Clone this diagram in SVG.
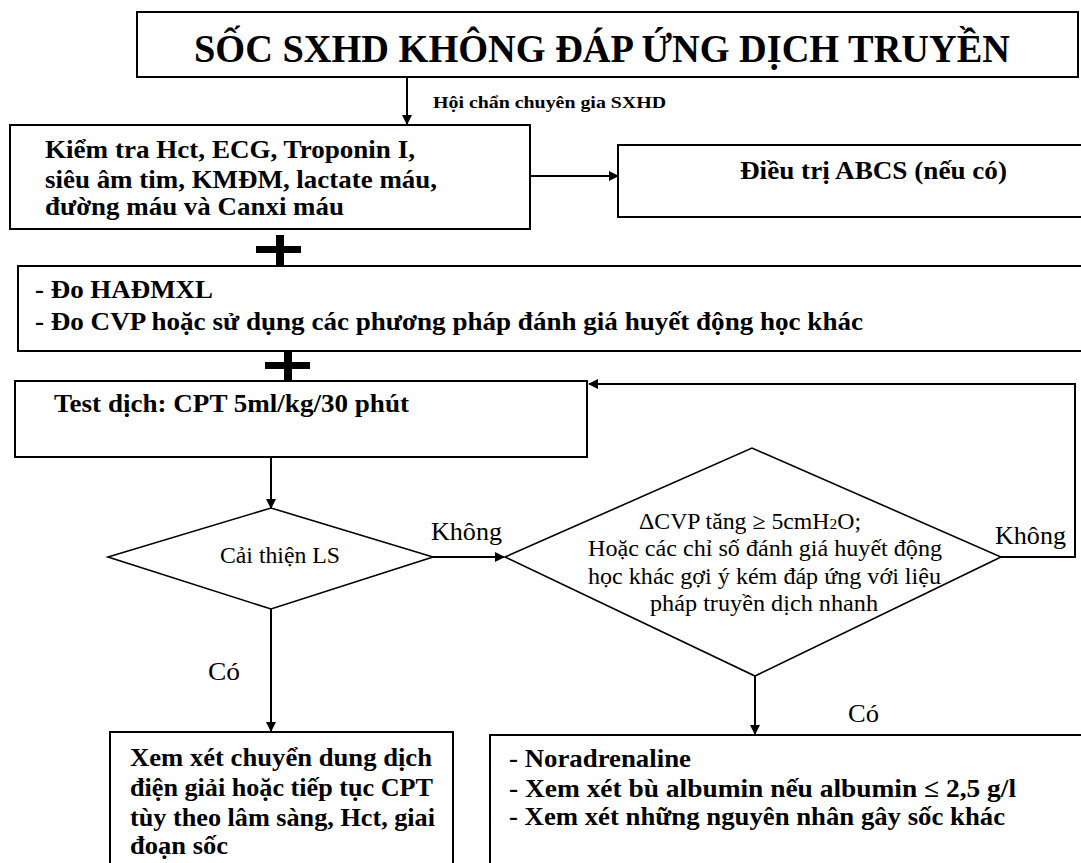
<svg xmlns="http://www.w3.org/2000/svg" width="1081" height="863" viewBox="0 0 1081 863">
  <style>
    .box { fill: #fff; stroke: #000; stroke-width: 2; }
    .dia { fill: #fff; stroke: #000; stroke-width: 1.6; }
    .wire { fill: none; stroke: #000; stroke-width: 2; }
    .plus { fill: #000; }
    .b { font-family: "Liberation Serif", "Times New Roman", serif; font-weight: bold; fill: #000; font-size: 26px; }
    .r { font-family: "Liberation Serif", "Times New Roman", serif; fill: #000; font-size: 23px; }
  </style>
  <defs>
    <marker id="arrow" markerWidth="10" markerHeight="10" refX="9" refY="5" orient="auto" markerUnits="userSpaceOnUse">
      <path d="M0,0 L10,5 L0,10 Z" fill="#000"/>
    </marker>
  </defs>

  <rect width="1081" height="863" fill="#fff"/>

  <!-- connectors -->
  <g id="connectors">
    <line class="wire" x1="407" y1="77" x2="407" y2="124" marker-end="url(#arrow)"/>
    <line class="wire" x1="530" y1="176" x2="618" y2="176" marker-end="url(#arrow)"/>
    <line class="wire" x1="271" y1="457" x2="271" y2="508" marker-end="url(#arrow)"/>
    <line class="wire" x1="433" y1="557" x2="504" y2="557" marker-end="url(#arrow)"/>
    <polyline class="wire" points="1001,557 1075,557 1075,384 589,384" marker-end="url(#arrow)"/>
    <line class="wire" x1="755" y1="676" x2="755" y2="734" marker-end="url(#arrow)"/>
    <line class="wire" x1="271" y1="609" x2="271" y2="731" marker-end="url(#arrow)"/>
    <text class="b" x="433" y="108" style="font-size:17px" textLength="233" lengthAdjust="spacingAndGlyphs">Hội chẩn chuyên gia SXHD</text>
    <text class="r" x="431" y="540" style="font-size:25px" textLength="71" lengthAdjust="spacingAndGlyphs">Không</text>
    <text class="r" x="995" y="544" style="font-size:25px" textLength="71" lengthAdjust="spacingAndGlyphs">Không</text>
    <text class="r" x="208" y="680" style="font-size:25px" textLength="32" lengthAdjust="spacingAndGlyphs">Có</text>
    <text class="r" x="848" y="722" style="font-size:25px" textLength="31" lengthAdjust="spacingAndGlyphs">Có</text>
  </g>

  <!-- plus signs between stacked boxes -->
  <g id="plus1">
    <rect class="plus" x="256" y="246" width="45" height="7"/>
    <rect class="plus" x="276" y="235" width="8" height="31"/>
  </g>
  <g id="plus2">
    <rect class="plus" x="265" y="362" width="45" height="7"/>
    <rect class="plus" x="284" y="351" width="8" height="30"/>
  </g>

  <g id="title">
    <rect class="box" x="137" y="12" width="941" height="65"/>
    <text class="b" x="194" y="62" style="font-size:41px" textLength="816" lengthAdjust="spacingAndGlyphs">SỐC SXHD KHÔNG ĐÁP ỨNG DỊCH  TRUYỀN</text>
  </g>

  <g id="tests">
    <rect class="box" x="10" y="125" width="520" height="104"/>
    <text class="b" x="45" y="158" textLength="370" lengthAdjust="spacingAndGlyphs">Kiểm tra Hct, ECG, Troponin I,</text>
    <text class="b" x="45" y="188" textLength="392" lengthAdjust="spacingAndGlyphs">siêu âm tim, KMĐM, lactate máu,</text>
    <text class="b" x="45" y="215" textLength="299" lengthAdjust="spacingAndGlyphs">đường máu và Canxi máu</text>
  </g>

  <g id="abcs">
    <rect class="box" x="618" y="145" width="470" height="72"/>
    <text class="b" x="740" y="179" textLength="267" lengthAdjust="spacingAndGlyphs">Điều trị ABCS (nếu có)</text>
  </g>

  <g id="monitoring">
    <rect class="box" x="18" y="266" width="1080" height="85"/>
    <text class="b" x="35" y="298" textLength="178" lengthAdjust="spacingAndGlyphs">- Đo HAĐMXL</text>
    <text class="b" x="35" y="330" textLength="828" lengthAdjust="spacingAndGlyphs">- Đo CVP hoặc sử dụng các phương pháp đánh giá huyết động học khác</text>
  </g>

  <g id="fluid-test">
    <rect class="box" x="15" y="381" width="572" height="76"/>
    <text class="b" x="54" y="412" textLength="355" lengthAdjust="spacingAndGlyphs">Test dịch: CPT 5ml/kg/30 phút</text>
  </g>

  <g id="improve">
    <polygon class="dia" points="108,557 271,508 433,557 271,609"/>
    <text class="r" x="220" y="563" textLength="120" lengthAdjust="spacingAndGlyphs">Cải thiện LS</text>
  </g>

  <g id="cvp">
    <polygon class="dia" points="505,557 752,448 1001,557 755,676"/>
    <text class="r" x="639" y="529" textLength="222" lengthAdjust="spacingAndGlyphs">ΔCVP tăng ≥ 5cmH<tspan style="font-size:15px">2</tspan>O;</text>
    <text class="r" x="588" y="556" textLength="354" lengthAdjust="spacingAndGlyphs">Hoặc các chỉ số đánh giá huyết động</text>
    <text class="r" x="588" y="584" textLength="353" lengthAdjust="spacingAndGlyphs">học khác gợi ý kém đáp ứng với liệu</text>
    <text class="r" x="650" y="611" textLength="228" lengthAdjust="spacingAndGlyphs">pháp truyền dịch nhanh</text>
  </g>

  <g id="continue">
    <rect class="box" x="110" y="732" width="343" height="140"/>
    <text class="b" x="130" y="766" textLength="302" lengthAdjust="spacingAndGlyphs">Xem xét chuyển dung dịch</text>
    <text class="b" x="130" y="796" textLength="303" lengthAdjust="spacingAndGlyphs">điện giải hoặc tiếp tục CPT</text>
    <text class="b" x="130" y="826" textLength="305" lengthAdjust="spacingAndGlyphs">tùy theo lâm sàng, Hct, giai</text>
    <text class="b" x="130" y="854" textLength="98" lengthAdjust="spacingAndGlyphs">đoạn sốc</text>
  </g>

  <g id="vasopressor">
    <rect class="box" x="490" y="735" width="600" height="140"/>
    <text class="b" x="509" y="767" textLength="182" lengthAdjust="spacingAndGlyphs">- Noradrenaline</text>
    <text class="b" x="509" y="797" textLength="507" lengthAdjust="spacingAndGlyphs">- Xem xét bù albumin nếu albumin ≤ 2,5 g/l</text>
    <text class="b" x="509" y="825" textLength="496" lengthAdjust="spacingAndGlyphs">- Xem xét những nguyên nhân gây sốc khác</text>
  </g>
</svg>
